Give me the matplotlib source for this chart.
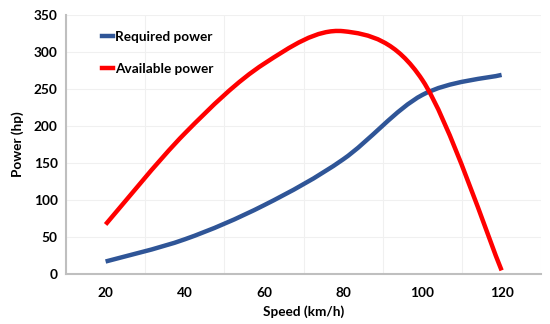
import numpy as np
import matplotlib.pyplot as plt
from matplotlib.path import Path
from matplotlib.patches import PathPatch
from matplotlib.lines import Line2D

plt.rcParams['font.family'] = ['Lato', 'DejaVu Sans']
plt.rcParams['font.weight'] = 'bold'

speed = [20, 40, 60, 80, 100, 120]
required_power = [17, 47, 93, 155, 242, 269]
available_power = [67, 190, 284, 328, 262, 5]

BLUE = '#2F5597'
RED = '#FF0000'


def smooth_path(xs, ys):
    # Excel-style smoothed line: cubic Bezier through the points
    pts = np.column_stack([xs, ys]).astype(float)
    n = len(pts)
    verts = [pts[0]]
    codes = [Path.MOVETO]
    for i in range(n - 1):
        p0 = pts[i - 1] if i > 0 else pts[i]
        p1 = pts[i]
        p2 = pts[i + 1]
        p3 = pts[i + 2] if i + 2 < n else pts[i + 1]
        c1 = p1 + (p2 - p0) / 6.0
        c2 = p2 - (p3 - p1) / 6.0
        verts += [c1, c2, p2]
        codes += [Path.CURVE4] * 3
    return Path(verts, codes)


fig = plt.figure(figsize=(5.5, 3.24), dpi=100)
ax = fig.add_axes([0.12, 0.154, 0.864, 0.8])

for ys, col in [(required_power, BLUE), (available_power, RED)]:
    patch = PathPatch(smooth_path(speed, ys), facecolor='none', edgecolor=col,
                      lw=3.2, capstyle='butt', joinstyle='round')
    ax.add_patch(patch)

ax.set_xlim(10, 130)
ax.set_ylim(0, 350)
ax.set_xticks([20, 40, 60, 80, 100, 120])
ax.set_yticks(range(0, 351, 50))
ax.set_xticks(range(10, 131, 20), minor=True)
ax.grid(True, which='minor', axis='x', color='#F0F0F0', lw=0.8)
ax.grid(True, which='major', axis='y', color='#F0F0F0', lw=0.8)
ax.set_axisbelow(True)
ax.tick_params(which='both', length=0, labelsize=9.8, colors='black', pad=6)
ax.tick_params(axis='x', pad=9)

for s in ['top', 'right']:
    ax.spines[s].set_visible(False)
for s in ['left', 'bottom']:
    ax.spines[s].set_color('#BFBFBF')
    ax.spines[s].set_linewidth(1.5)

ax.set_xlabel('Speed (km/h)', fontsize=9.8, fontweight='bold', labelpad=5)
ax.set_ylabel('Power (hp)', fontsize=9.8, fontweight='bold', labelpad=7)

handles = [Line2D([], [], color=BLUE, lw=3.2), Line2D([], [], color=RED, lw=3.2)]
ax.legend(handles, ['Required power', 'Available power'], loc='upper left',
          bbox_to_anchor=(0.05, 0.985), frameon=False, fontsize=9.8,
          handlelength=0.8, handletextpad=0.15, labelspacing=1.45)

fig.savefig('out.png', dpi=100)
